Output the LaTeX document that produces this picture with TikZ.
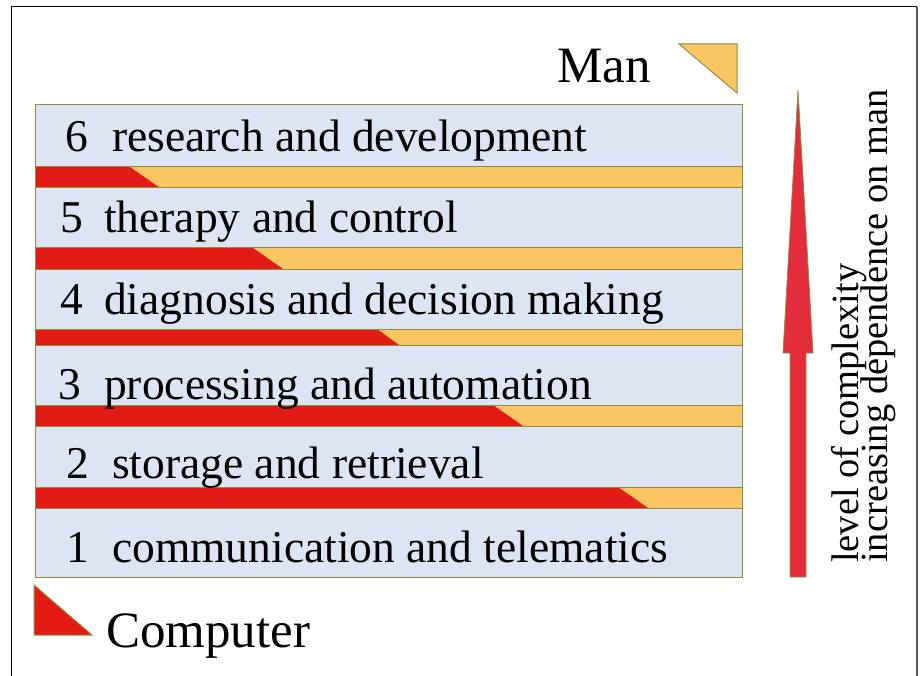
\documentclass[tikz,border=0pt]{standalone}
\usepackage{fontspec}
\setmainfont{Liberation Serif}
\usepackage{tikz}
\usetikzlibrary{arrows.meta, positioning}
\definecolor{rowblue}{HTML}{DDE4F3}
\definecolor{comp}{HTML}{E31B17}
\definecolor{man}{HTML}{FBC564}
\definecolor{edge}{HTML}{8F8F3F}
\definecolor{arrowred}{HTML}{E32D3C}

\tikzset{
  rowtext/.style={anchor=base west, inner sep=0pt, font=\fontsize{45.5}{50}\selectfont},
  keytext/.style={anchor=base west, inner sep=0pt, font=\fontsize{51}{55}\selectfont},
  sidetext/.style={anchor=base west, inner sep=0pt, rotate=90, font=\fontsize{38.5}{29}\selectfont},
  bar/.style={fill=man, draw=edge, line width=1pt},
  compbar/.style={fill=comp, draw=none},
}

\begin{document}
\begin{tikzpicture}[x=1pt, y=-1pt, line join=miter]
  \useasboundingbox (0,0) rectangle (920,676);

  % frame
  \draw[line width=1pt] (11,676) -- (11,7) -- (917,7);
  \draw[line width=2.5pt, black!65] (917,7) -- (917,676);

  % levels
  \draw[fill=rowblue, draw=edge, line width=1pt] (35,105) rectangle (742,577);

  \draw[bar] (35,167) rectangle (742,188);
  \fill[compbar] (35,167) -- (130,167) -- (160,188) -- (35,188) -- cycle;
  \draw[bar, fill=none] (35,167) rectangle (742,188);

  \draw[bar] (35,248) rectangle (742,269);
  \fill[compbar] (35,248) -- (253,248) -- (283,269) -- (35,269) -- cycle;
  \draw[bar, fill=none] (35,248) rectangle (742,269);

  \draw[bar] (35,329) rectangle (742,345);
  \fill[compbar] (35,329) -- (377,329) -- (399,345) -- (35,345) -- cycle;
  \draw[bar, fill=none] (35,329) rectangle (742,345);

  \draw[bar] (35,405) rectangle (742,426);
  \fill[compbar] (35,405) -- (493,405) -- (523,426) -- (35,426) -- cycle;
  \draw[bar, fill=none] (35,405) rectangle (742,426);

  \draw[bar] (35,487) rectangle (742,508);
  \fill[compbar] (35,487) -- (618,487) -- (648,508) -- (35,508) -- cycle;
  \draw[bar, fill=none] (35,487) rectangle (742,508);

  % labels
  \node[rowtext] (n6) at (65,152) {6};
  \node[rowtext] (t6) at (112,152) {research and development};
  \node[rowtext] (n5) at (60,233) {5};
  \node[rowtext] (t5) at (104,233) {therapy and control};
  \node[rowtext] (n4) at (60,314) {4};
  \node[rowtext] (t4) at (104,314) {diagnosis and decision making};
  \node[rowtext] (n3) at (58,399) {3};
  \node[rowtext] (t3) at (104,399) {processing and automation};
  \node[rowtext] (n2) at (66,478) {2};
  \node[rowtext] (t2) at (112,478) {storage and retrieval};
  \node[rowtext] (n1) at (66,562) {1};
  \node[rowtext] (t1) at (112,562) {communication and telematics};

  % legend
  \node[keytext] (man) at (557,83) {Man};
  \draw[fill=man, draw=edge, line width=1pt] (679,44) -- (737,44) -- (737,93) -- cycle;
  \draw[fill=comp, draw=edge, line width=1pt] (34,585) -- (34,635) -- (92,635) -- cycle;
  \node[keytext] (comp) at (106,647) {Computer};

  % arrow
  \draw[fill=arrowred, draw=edge, line width=0.8pt]
    (790,577) -- (790,353) -- (783,353) -- (798,90) -- (813,353) -- (806,353) -- (806,577) -- cycle;
  \node[sidetext] (lvl) at (858,563) {level of complexity};
  \node[sidetext] (dep) at (887,563) {increasing dependence on man};
\end{tikzpicture}
\end{document}
